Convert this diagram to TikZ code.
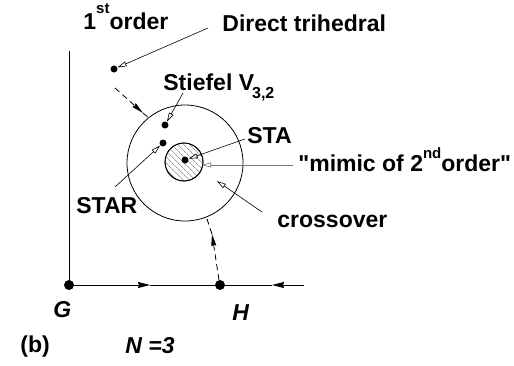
\documentclass[tikz,border=0pt]{standalone}
\usepackage{fontspec}
\setmainfont{Liberation Sans}[Ligatures=TeXOff]
\usetikzlibrary{arrows.meta,patterns.meta}
\begin{document}
\begin{tikzpicture}[x=1pt,y=-1pt,line width=0.8pt,
  lbl/.style={font=\fontsize{23}{27}\bfseries\selectfont,inner sep=0pt,anchor=base west},
  ilbl/.style={lbl,font=\fontsize{23}{27}\bfseries\itshape\selectfont},
  smalldot/.style={circle,fill=black,inner sep=0pt,minimum size=7pt},
  bigdot/.style={circle,fill=black,inner sep=0pt,minimum size=10pt},
  pointer/.style={line width=0.6pt,-{Triangle[open,length=9pt,width=5pt]}},
  flow/.style={dash pattern=on 6pt off 4pt},
  flowtip/.style={flow,-{Stealth[length=12pt,width=5pt,inset=1pt]}},
  axtip/.style={-{Stealth[length=12pt,width=6pt,inset=1pt]}}]
\useasboundingbox (0,0) rectangle (514,365);
% axes
\node[bigdot] (G) at (69,285) {};
\node[bigdot] (H) at (220,285) {};
\coordinate (ytop) at (69,51);
\coordinate (xend) at (304,285);
\coordinate (a1) at (150,285);
\coordinate (a2) at (272,285);
\draw (ytop) -- (G.center);
\draw[axtip] (G.center) -- (a1);
\draw (a1) -- (H.center);
\draw[axtip] (xend) -- (a2);
\draw (a2) -- (H.center);
% circles
\coordinate (C) at (185,163);
\draw (C) circle[radius=58];
\node[circle,draw,minimum size=38pt,inner sep=0pt,
  pattern={Lines[angle=-45,distance=4pt,line width=0.5pt]},pattern color=black!60] (S) at (184,162) {};
\draw (S) circle[radius=19];
% dots
\node[smalldot] (D) at (114,69) {};
\node[smalldot] (Sf) at (165,125) {};
\node[smalldot] (SR) at (163,143) {};
\node[smalldot] (SA) at (185,160) {};
% dashed flows
\coordinate (f1s) at (115,88);
\coordinate (f1t) at (143,113);
\coordinate (f1e) at (149,118);
\draw[flowtip] (f1s) -- (f1t);
\draw[flow] (f1t) -- (f1e);
\coordinate (f2s) at (219,280);
\coordinate (f2t) at (212,234);
\coordinate (f2e) at (207,219);
\draw[flowtip] (f2s) -- (f2t);
\draw[flow] (f2t) -- (f2e);
% labels
\node[lbl] (L1) at (83,29) {1\raisebox{16pt}{\fontsize{15}{15}\selectfont st}order};
\node[lbl] (LD) at (222,31) {Direct trihedral};
\node[lbl] (LS) at (163,90) {Stiefel V\kern-2pt\raisebox{-8pt}{\fontsize{16}{16}\selectfont 3,2}};
\node[lbl] (LA) at (247,143) {STA};
\node[lbl] (LM) at (298,171) {\char34 mimic of 2\raisebox{13pt}{\fontsize{15}{15}\selectfont nd}order\char34};
\node[lbl] (LR) at (76,213) {STAR};
\node[lbl] (LC) at (277,227) {crossover};
\node[ilbl] (LG) at (53,317) {G};
\node[ilbl] (LH) at (232,320) {H};
\node[lbl] (Lb) at (20,352) {(b)};
\node[ilbl] (LN) at (125,353) {N =3};
% pointers
\coordinate (pD) at (208,28);
\draw[pointer] (pD) -- (D);
\coordinate (pS) at (183,93);
\draw[pointer] (pS) -- (Sf);
\coordinate (pA) at (245,139);
\draw[pointer] (pA) -- (SA);
\coordinate (pM) at (293,165);
\coordinate (pMe) at (202,165);
\draw[pointer,draw=black!55] (pM) -- (pMe);
\coordinate (pR) at (115,187);
\draw[pointer] (pR) -- (SR);
\coordinate (pC) at (262,212);
\coordinate (pCe) at (217,181);
\draw[pointer] (pC) -- (pCe);
\end{tikzpicture}
\end{document}
